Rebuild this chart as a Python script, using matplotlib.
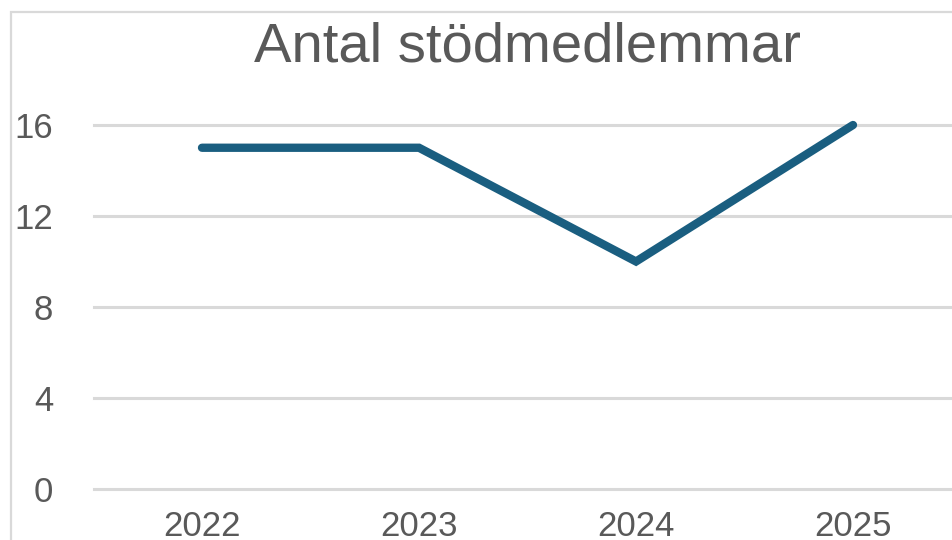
import matplotlib.pyplot as plt
from matplotlib.patches import Rectangle

# data
years = ['2022', '2023', '2024', '2025']
members = [15, 15, 10, 16]
y_ticks = [0, 4, 8, 12, 16]

plt.rcParams['font.family'] = ['Liberation Sans', 'DejaVu Sans']

fig = plt.figure(figsize=(9.52, 5.4), dpi=100)
fig.patch.set_facecolor('white')

# outer chart frame (cut off on right and bottom)
fig.patches.append(Rectangle((11 / 952, -0.2), 1.2, 0.2 + (540 - 12) / 540,
                             transform=fig.transFigure, fill=False,
                             edgecolor='#d9d9d9', linewidth=1.6))

ax = fig.add_axes([93.5 / 952, 51 / 540, 868 / 952, 364 / 540])
x = range(len(years))
ax.plot(x, members, color='#1a5e80', linewidth=6,
        solid_capstyle='round', solid_joinstyle='miter', clip_on=False, zorder=3)

ax.set_xlim(-0.5, len(years) - 0.5)
ax.set_ylim(0, 16)
ax.set_yticks(y_ticks)
ax.set_xticks(list(x))
ax.set_xticklabels(years)
ax.yaxis.grid(True, color='#d9d9d9', linewidth=2.2)
ax.set_axisbelow(True)
for s in ax.spines.values():
    s.set_visible(False)
ax.tick_params(axis='both', length=0, labelsize=25, colors='#595959')
ax.tick_params(axis='y', pad=29)
ax.tick_params(axis='x', pad=15)
for gl in ax.get_ygridlines():
    gl.set_clip_on(False)

fig.text(527 / 952, (540 - 48) / 540, 'Antal stödmedlemmar', fontsize=40.5,
         color='#595959', ha='center', va='center')

fig.savefig('out.png', dpi=100)
